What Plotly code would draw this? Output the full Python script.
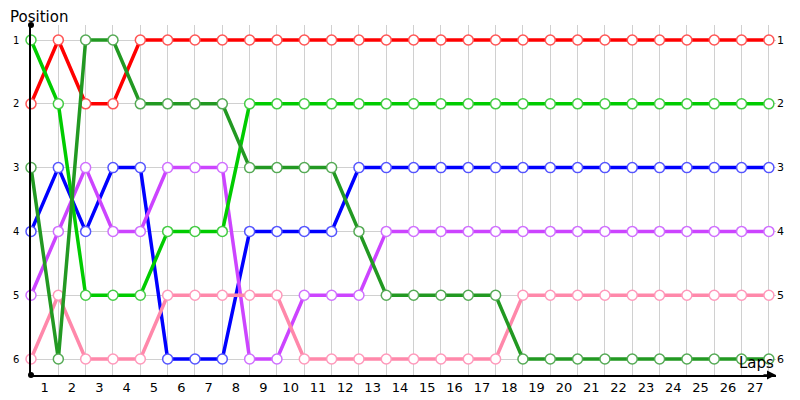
import plotly.graph_objects as go

laps = list(range(0, 28))
lap_labels = [str(i) for i in range(1, 28)]
positions = [1, 2, 3, 4, 5, 6]

red = [2, 1, 2, 2, 1] + [1] * 23
light_green = [1, 2, 5, 5, 5, 4, 4, 4] + [2] * 20
dark_green = [3, 6, 1, 1, 2, 2, 2, 2, 3, 3, 3, 3, 4, 5, 5, 5, 5, 5] + [6] * 10
blue = [4, 3, 4, 3, 3, 6, 6, 6, 4, 4, 4, 4] + [3] * 16
purple = [5, 4, 3, 4, 4, 3, 3, 3, 6, 6, 5, 5, 5] + [4] * 15
pink = [6, 5, 6, 6, 6, 5, 5, 5, 5, 5, 6, 6, 6, 6, 6, 6, 6, 6] + [5] * 10

series = [
    (red, "#ff0000", "#ff5555"),
    (blue, "#0000ff", "#5555ff"),
    (purple, "#cc44ff", "#d070ff"),
    (pink, "#ff88aa", "#ff99bb"),
    (light_green, "#00cc00", "#44cc44"),
    (dark_green, "#229922", "#55aa55"),
]

fig = go.Figure()
for vals, col, mcol in series:
    fig.add_trace(go.Scatter(
        x=laps, y=vals, mode="lines+markers",
        line=dict(color=col, width=3.5),
        marker=dict(size=10, color="white", line=dict(color=mcol, width=1.5)),
        cliponaxis=False, showlegend=False, hoverinfo="skip"))

# right-side end labels
for p in positions:
    fig.add_annotation(x=laps[-1], y=p, text=str(p), showarrow=False,
                       xanchor="left", xshift=6, font=dict(size=11, color="black"))

fig.update_layout(
    width=792, height=392,
    margin=dict(l=23, r=24, t=17, b=25),
    paper_bgcolor="white", plot_bgcolor="white",
    font=dict(family="DejaVu Sans", color="black"),
    xaxis=dict(range=[0, 27.26], tickvals=[i + 0.5 for i in range(27)],
               ticktext=lap_labels, showgrid=False, zeroline=False, automargin=False,
               showline=True, linecolor="black", linewidth=1.5,
               tickfont=dict(size=13), ticks="",
               minor=dict(tickvals=laps, showgrid=True, gridcolor="#d0d0d0", gridwidth=1)),
    yaxis=dict(range=[6.25, 0.765], tickvals=positions, ticktext=[str(p) for p in positions],
               showgrid=True, gridcolor="#d0d0d0", zeroline=False, automargin=False,
               showline=True, linecolor="black", linewidth=1.5,
               tickfont=dict(size=10), ticks="", ticklabelstandoff=8),
)

fig.add_annotation(xref="paper", yref="paper", x=0, xshift=-23, y=1.0, yshift=-3, text="Position",
                   showarrow=False, xanchor="left", yanchor="bottom", font=dict(size=15))
fig.add_annotation(xref="paper", yref="paper", x=1.0, y=0.0, yshift=1, text="Laps",
                   showarrow=False, xanchor="right", yanchor="bottom", font=dict(size=15))
# arrow at end of x-axis
fig.add_annotation(xref="paper", yref="paper", x=1.0, y=0.0, ax=-14, ay=0, text="",
                   showarrow=True, arrowhead=2, arrowsize=1.2, arrowwidth=1.5, arrowcolor="black")
# dots at y-axis ends
for yy in [0, 1]:
    fig.add_shape(type="circle", xref="paper", yref="paper", xsizemode="pixel", ysizemode="pixel",
                  xanchor=0, yanchor=yy, x0=-3, x1=3, y0=-3, y1=3,
                  fillcolor="black", line=dict(width=0))

fig.write_html("out.html")
